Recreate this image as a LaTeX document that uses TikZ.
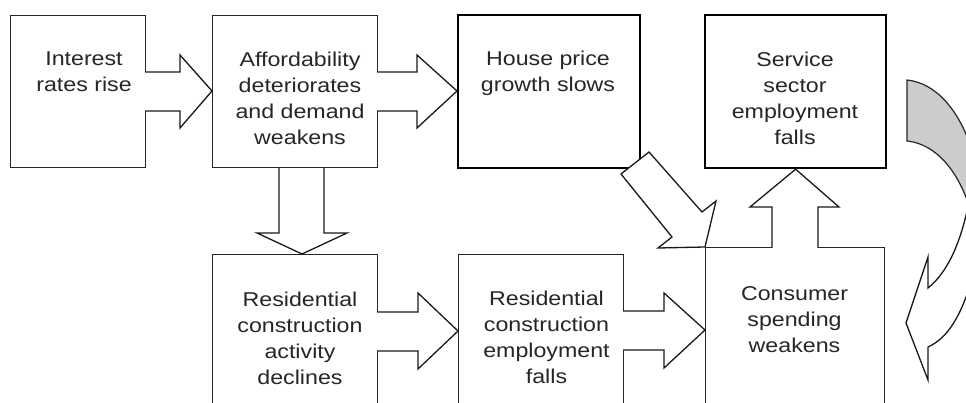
\documentclass[tikz,border=0pt]{standalone}
\usepackage{fontspec}
\setmainfont{Liberation Sans}[FakeStretch=1.16]
\usetikzlibrary{calc}
\begin{document}
\begin{tikzpicture}[x=1pt,y=-1pt,
  thinbox/.style={draw=black!85, line width=1.1pt, fill=white, anchor=north west, inner sep=0pt},
  thickbox/.style={draw=black, line width=2.2pt, fill=white, anchor=north west, inner sep=0pt},
  boxtext/.style={anchor=north, align=center, inner sep=0pt, text=black!85,
    font=\fontsize{20}{26}\selectfont},
  blk/.style={draw=black!90, line width=1.3pt, fill=white, line join=miter},
  blkopen/.style={draw=black!90, line width=1.3pt, line join=miter},
  backribbon/.style={draw=black!85, line width=1.2pt, fill=black!20},
]
\useasboundingbox (0,0) rectangle (966,403);
\fill[white] (0,0) rectangle (966,403);

% boxes
\node[thinbox,  minimum width=135, minimum height=152] (b1) at (10,15) {};
\node[thinbox,  minimum width=165, minimum height=152] (b2) at (212,15) {};
\node[thickbox, minimum width=182, minimum height=153] (b3) at (457,14) {};
\node[thickbox, minimum width=181, minimum height=153] (b4) at (704,14) {};
\node[thinbox,  minimum width=165, minimum height=160] (b5) at (212,254) {};
\node[thinbox,  minimum width=165, minimum height=160] (b6) at (458,254) {};
\node[thinbox,  minimum width=179, minimum height=170] (b7) at (705,247) {};

% box texts
\node[boxtext] (t1) at (84,51.5)    {Interest\\rates rise};
\node[boxtext] (t2) at (300,51.5)   {Affordability\\deteriorates\\and demand\\weakens};
\node[boxtext] (t3) at (548,50.5)   {House price\\growth slows};
\node[boxtext] (t4) at (795,51.5)   {Service\\sector\\employment\\falls};
\node[boxtext] (t5) at (300,291.5)  {Residential\\construction\\activity\\declines};
\node[boxtext] (t6) at (546.5,290.5){Residential\\construction\\employment\\falls};
\node[boxtext] (t7) at (794.5,286.5){Consumer\\spending\\weakens};

% block arrows leaving the boxes to the right
\draw[blk] ($(b1.east |- 0,72)+(-1,0)$) -- (180,72) -- (180,55) -- (b2.west |- 0,91)
  -- (180,128) -- (180,111) -- ($(b1.east |- 0,111)+(-1,0)$);
\draw[blk] ($(b2.east |- 0,72)+(-1,0)$) -- (417,72) -- (417,55) -- (b3.west |- 0,91)
  -- (417,128) -- (417,111) -- ($(b2.east |- 0,111)+(-1,0)$);
\draw[blk] ($(b5.east |- 0,312)+(-1,0)$) -- (418,312) -- (418,293) -- (b6.west |- 0,331)
  -- (418,369) -- (418,351) -- ($(b5.east |- 0,351)+(-1,0)$);
\draw[blk] ($(b6.east |- 0,311)+(-1,0)$) -- (664,311) -- (664,293) -- (b7.west |- 0,330)
  -- (664,368) -- (664,350) -- ($(b6.east |- 0,350)+(-1,0)$);

% block arrow down from affordability to construction activity
\draw[blkopen] (279,0 |- b2.south) -- (279,233) -- (257,233) -- (302,0 |- b5.north)
  -- (347,233) -- (324,233) -- (324,0 |- b2.south);

% block arrow up from consumer spending to service employment
\draw[blk] ($(772,0 |- b7.north)+(0,1)$) -- (772,207) -- (750,207) -- (b4.south)
  -- (839,207) -- (818,207) -- ($(818,0 |- b7.north)+(0,1)$);

% diagonal block arrow from house prices to consumer spending
\draw[blk] (621,174) -- (649,152) -- (702,212) -- (716,201) -- (b7.north west)
  -- (658,248) -- (672,237) -- cycle;

% curved feedback arrow on the right: shaded back, white front with head
\draw[backribbon] (907,80) .. controls (936,83) and (959,110) .. (972,150)
  -- (990,150) -- (990,215) -- (971,212)
  .. controls (959,171) and (936,144) .. (907,141) -- cycle;
\draw[blk] (928,288) .. controls (948,272) and (963,240) .. (971,190)
  -- (995,190) -- (995,275) -- (973,275)
  .. controls (962,315) and (948,338) .. (928,347)
  -- (928,380) -- (906,323) -- (928,257) -- cycle;
\end{tikzpicture}
\end{document}
